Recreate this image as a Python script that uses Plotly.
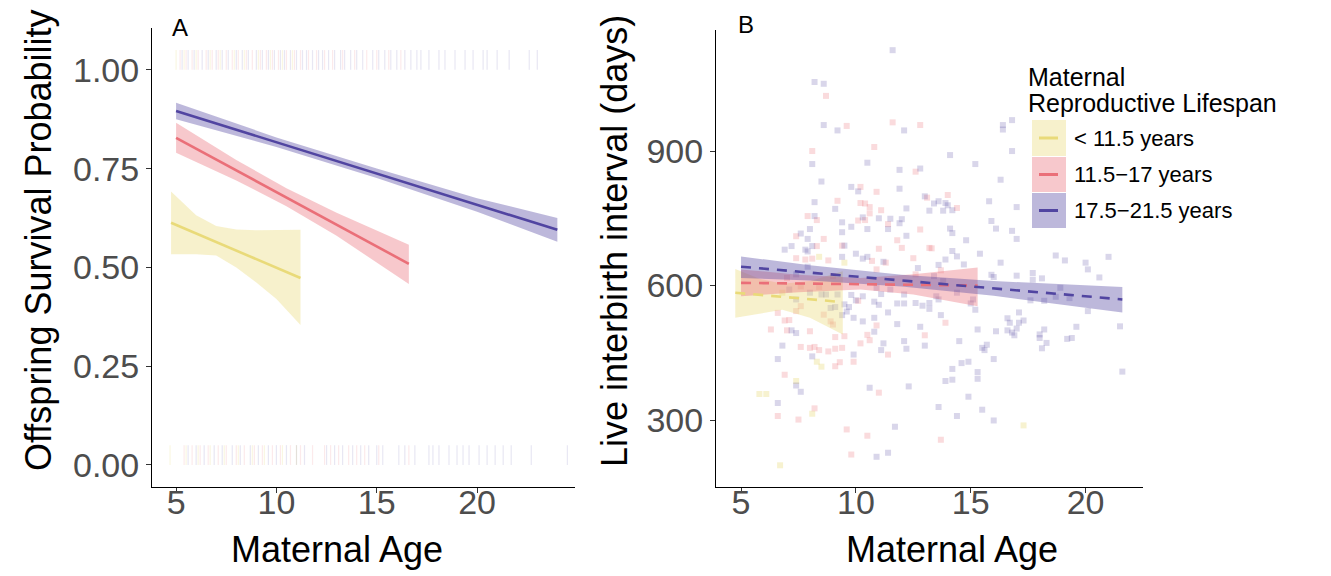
import plotly.graph_objects as go

W, H = 1331, 576
FONT = "Liberation Sans, Arial, sans-serif"
OFF = 8  # page body margin of the html output

# ---------------- colours ----------------
COL = {"y": (233, 218, 121), "r": (234, 111, 120), "b": (81, 69, 161)}
def rgba(c, a):
    return f"rgba({c[0]},{c[1]},{c[2]},{a})"

# ---------------- Panel A: survival fits ----------------
a_yel_age = [4.75, 6.0, 7.0, 8.0, 9.0, 10.0, 11.2]
a_yel_fit = [0.613, 0.586, 0.564, 0.543, 0.521, 0.499, 0.473]
a_yel_hi = [0.692, 0.632, 0.605, 0.596, 0.594, 0.594, 0.595]
a_yel_lo = [0.533, 0.533, 0.530, 0.500, 0.462, 0.420, 0.354]

a_red_age = [5.0, 8.0, 10.5, 13.0, 16.6]
a_red_fit = [0.828, 0.746, 0.677, 0.608, 0.509]
a_red_hi = [0.866, 0.772, 0.700, 0.638, 0.557]
a_red_lo = [0.790, 0.720, 0.655, 0.580, 0.458]

a_blu_age = [5.0, 10.0, 15.0, 20.0, 24.0]
a_blu_fit = [0.896, 0.817, 0.738, 0.658, 0.595]
a_blu_hi = [0.917, 0.829, 0.750, 0.675, 0.625]
a_blu_lo = [0.875, 0.805, 0.726, 0.641, 0.565]

# rug marks (ages of offspring that survived = 1 / died = 0)
surv_blue = [5.3, 5.6, 5.9, 6.3, 6.6, 7.0, 7.3, 7.6, 8.0, 8.3, 8.6, 9.0, 9.3, 9.6, 9.9, 10.2, 10.4, 10.7,
             11.0, 11.3, 11.5, 11.8, 12.1, 12.3, 12.6, 12.9, 13.2, 13.4, 13.7, 14.0, 14.3, 14.8, 15.1, 15.4,
             15.7, 16.0, 16.4, 16.7, 17.0, 17.2, 17.6, 18.1, 18.4, 18.9, 19.4, 19.8, 20.3, 20.5, 21.0, 21.6,
             22.6, 23.0]
surv_red = [5.2, 5.5, 5.8, 6.1, 6.5, 6.8, 7.1, 7.5, 7.8, 8.1, 8.5, 8.8, 9.2, 9.5, 9.8, 10.1, 10.5, 10.9,
            11.2, 11.6, 12.0, 12.4, 12.8, 13.3, 13.9, 14.5, 15.0, 15.6, 16.2]
surv_yel = [5.0, 5.4, 6.0, 6.7, 7.2, 7.9, 8.4, 9.1, 9.7, 10.3, 10.8]
died_blue = [5.6, 6.0, 6.4, 6.9, 7.3, 7.8, 8.2, 8.7, 9.1, 9.6, 10.0, 10.5, 11.0, 11.4, 12.5, 12.9, 13.3,
             13.8, 14.2, 14.6, 15.0, 15.3, 16.1, 16.4, 16.9, 17.6, 17.8, 18.1, 18.6, 19.0, 19.3, 19.6, 20.1,
             20.5, 20.9, 21.3, 21.7, 22.7, 24.5]
died_red = [5.4, 5.8, 6.2, 6.6, 7.1, 7.5, 8.0, 8.4, 8.9, 9.3, 9.8, 10.2, 10.7, 11.2, 11.8, 12.4, 12.7, 13.1,
            13.6, 14.0, 14.4, 15.1, 16.6]
died_yel = [4.7, 5.5, 6.1, 6.7, 7.4, 8.1, 8.8, 9.4, 10.3, 11.0]

# ---------------- Panel B: interbirth intervals ----------------
b_yel_age = [4.75, 5.8, 6.8, 8.0, 9.43]
b_yel_fit = [584, 579, 575, 570, 563]
b_yel_hi = [637, 615, 604, 610, 632]
b_yel_lo = [528, 537, 546, 528, 491]

b_red_age = [5.0, 7.5, 10.2, 12.5, 15.3]
b_red_fit = [606, 604.5, 603, 601.7, 600]
b_red_hi = [636, 624, 617, 625, 640]
b_red_lo = [576, 585, 591, 580, 554]

b_blu_age = [5.0, 8.0, 12.0, 16.0, 21.6]
b_blu_fit = [642, 629, 611, 594, 569]
b_blu_hi = [665, 645, 624, 610, 597]
b_blu_lo = [617, 611, 598, 577, 540]

pts_yel_age = [8.4, 9.5, 6.8, 8.3, 8.5, 7.4, 5.8, 6.1, 8.1, 6.7, 17.3]
pts_yel_ibi = [664, 651, 584, 430, 419, 387, 358, 358, 314, 199, 288]

pts_red_age = [8.7, 9.6, 11.6, 12.8, 8.1, 10.8, 12.6, 10.2, 10.9, 13.1, 9.2, 10.2, 10.4, 10.6, 11.1, 7.9,
               8.3, 10.6, 10.1, 10.4, 11.4, 12.8, 7.4, 8.6, 11.8, 8.3, 9.4, 11.0, 12.0, 13.2, 7.4, 7.8, 8.1,
               8.8, 10.7, 11.3, 12.5, 7.0, 9.0, 10.9, 12.6, 7.6, 8.4, 10.1, 7.6, 7.4, 6.6, 8.6, 6.9, 7.1, 8.9,
               10.9, 6.3, 7.0, 8.0, 9.0, 10.5, 9.1, 9.5, 13.0, 7.6, 8.0, 8.2, 8.4, 8.8, 9.1, 9.4, 10.2, 10.6,
               11.4, 9.3, 9.9, 9.1, 6.9, 11.0, 8.2, 6.6, 7.5, 9.6, 10.5, 9.8,
               14.0, 14.4, 13.3, 13.7, 13.9, 13.7]
pts_red_ibi = [1023, 956, 964, 958, 900, 909, 854, 820, 809, 796, 789, 784, 783, 775, 768, 755,
               746, 761, 745, 746, 737, 725, 710, 704, 701, 688, 689, 682, 684, 684, 661, 658, 660,
               656, 655, 651, 661, 617, 621, 636, 625, 598, 597, 566, 554, 543, 539, 535, 522, 523, 520,
               511, 502, 500, 498, 513, 490, 485, 487, 489, 463, 461, 463, 456, 453, 459, 461, 471, 478,
               446, 429, 430, 420, 401, 361, 326, 309, 301, 279, 265, 223,
               802, 773, 683, 634, 517, 256]

pts_blu_age = [11.6, 8.2, 8.6, 8.6, 9.2, 12.1, 8.1, 10.5, 11.9, 12.8, 8.5, 9.8, 10.1, 11.9, 13.0, 8.2,
               9.1, 12.2, 13.2, 8.2, 10.3, 11.0, 11.5, 12.0, 9.4, 11.9, 8.0, 9.8, 10.5, 11.4, 7.6, 7.9,
               9.4, 12.2, 7.2, 6.9, 7.8, 8.1, 9.5, 7.9, 10.0, 9.4, 10.3, 10.5, 11.2, 12.7, 7.9, 7.4, 7.1,
               8.7, 8.5, 8.0, 7.4, 9.2, 9.8, 10.3, 10.9, 11.1, 11.5, 12.1, 10.0, 10.8, 11.0, 11.8, 12.1,
               12.6, 12.9, 13.2, 13.2, 9.5, 9.7, 8.9, 9.1, 9.6, 11.4, 9.4, 9.9, 10.8, 10.3, 11.8, 12.8,
               7.2, 7.4, 10.8, 6.8, 11.2, 11.1, 12.1, 12.2, 13.0, 9.9, 6.6, 8.1, 7.4, 7.6, 10.6, 12.3,
               6.6, 11.7, 10.9, 11.4,
               16.8, 16.4, 16.4, 16.8, 14.1, 15.2, 16.3, 13.4, 13.6, 13.9, 14.0, 13.8, 14.2, 15.8, 17.0,
               15.9, 16.1, 14.1, 14.2, 14.8, 16.8, 17.0, 15.4, 18.7, 19.1, 20.0, 21.0, 14.2, 14.4, 13.9,
               13.6, 14.7, 16.3, 20.1, 17.7, 17.0, 17.7, 15.9, 16.0, 18.1, 20.6, 13.4, 13.8, 14.4, 13.5,
               13.6, 15.1, 15.0, 15.2, 18.9, 18.7, 17.6, 18.2, 19.3, 20.1, 13.7, 17.1, 17.3, 17.1, 16.6,
               16.7, 16.6, 16.8, 16.9, 17.0, 15.3, 16.1, 18.0, 18.0, 18.2, 18.3, 18.1, 19.2, 19.4, 19.6,
               21.5, 14.5, 15.7, 15.5, 15.6, 16.0, 14.6, 14.9, 14.2, 15.3, 15.3, 14.2, 13.9, 21.6, 14.9,
               13.6, 15.5, 14.4, 16.0]
pts_blu_ibi = [1125, 1054, 1050, 958, 946, 946, 871, 874, 858, 861, 832, 820, 810, 816, 799, 786,
               771, 772, 767, 755, 752, 750, 749, 748, 741, 739, 726, 731, 726, 726, 716, 704,
               719, 711, 688, 680, 680, 688, 689, 676, 671, 664, 660, 664, 653, 639, 642, 625, 591,
               580, 580, 584, 569, 580, 579, 576, 595, 581, 591, 580, 567, 564, 557, 560, 560,
               561, 555, 561, 548, 558, 552, 550, 552, 542, 540, 534, 528, 528, 520, 514, 508,
               500, 494, 497, 466, 471, 456, 476, 459, 466, 446, 436, 442, 377, 363, 372, 375,
               338, 285, 218, 227,
               969, 958, 948, 900, 891, 871, 836, 783, 788, 784, 779, 767, 768, 788, 775,
               744, 727, 727, 717, 701, 722, 704, 671, 667, 656, 651, 664, 677, 665, 658,
               646, 647, 651, 636, 628, 622, 613, 624, 619, 616, 618, 621, 610, 584, 576,
               569, 569, 560, 546, 595, 575, 567, 566, 572, 543, 534, 540, 522, 517, 527,
               517, 500, 495, 489, 504, 502, 498, 491, 483, 502, 472, 460, 481, 483, 508,
               509, 476, 468, 461, 456, 436, 427, 430, 414, 407, 392, 390, 387, 408, 352,
               329, 323, 309, 299]

legend_labels = ["< 11.5 years", "11.5\u221217 years", "17.5\u221221.5 years"]
legend_keys = ["y", "r", "b"]

RUG_H = 0.05
RIB_A = 0.38

fig = go.Figure()

def ribbon(age, lo, hi, c, xa, ya):
    fig.add_trace(go.Scatter(x=list(age) + list(age)[::-1], y=list(hi) + list(lo)[::-1],
                             fill="toself", fillcolor=rgba(COL[c], RIB_A), line=dict(width=0),
                             mode="lines", hoverinfo="skip", showlegend=False, xaxis=xa, yaxis=ya))

def fitline(age, fit, c, xa, ya, dash="solid"):
    fig.add_trace(go.Scatter(x=age, y=fit, mode="lines", line=dict(color=rgba(COL[c], 1), width=2.6, dash=dash),
                             showlegend=False, xaxis=xa, yaxis=ya))

def rug(ages, base, c, alpha):
    xs, ys = [], []
    for a in ages:
        xs += [a, a, None]
        ys += [base, base + RUG_H, None]
    fig.add_trace(go.Scatter(x=xs, y=ys, mode="lines", line=dict(color=rgba(COL[c], alpha), width=1.2),
                             showlegend=False, hoverinfo="skip", xaxis="x", yaxis="y"))

# Panel A
rug(surv_yel, 1.0, "y", 0.22); rug(surv_red, 1.0, "r", 0.15); rug(surv_blue, 1.0, "b", 0.13)
rug(died_yel, 0.0, "y", 0.22); rug(died_red, 0.0, "r", 0.15); rug(died_blue, 0.0, "b", 0.13)
ribbon(a_yel_age, a_yel_lo, a_yel_hi, "y", "x", "y")
ribbon(a_red_age, a_red_lo, a_red_hi, "r", "x", "y")
ribbon(a_blu_age, a_blu_lo, a_blu_hi, "b", "x", "y")
fitline(a_yel_age, a_yel_fit, "y", "x", "y")
fitline(a_red_age, a_red_fit, "r", "x", "y")
fitline(a_blu_age, a_blu_fit, "b", "x", "y")

# Panel B points
for ages, ibis, c, al in [(pts_yel_age, pts_yel_ibi, "y", 0.35), (pts_red_age, pts_red_ibi, "r", 0.25),
                          (pts_blu_age, pts_blu_ibi, "b", 0.22)]:
    fig.add_trace(go.Scatter(x=ages, y=ibis, mode="markers",
                             marker=dict(symbol="square", size=6, color=rgba(COL[c], al), line=dict(width=0)),
                             showlegend=False, xaxis="x2", yaxis="y2"))
ribbon(b_yel_age, b_yel_lo, b_yel_hi, "y", "x2", "y2")
ribbon(b_red_age, b_red_lo, b_red_hi, "r", "x2", "y2")
ribbon(b_blu_age, b_blu_lo, b_blu_hi, "b", "x2", "y2")
fitline(b_yel_age, b_yel_fit, "y", "x2", "y2", dash="10px,8px")
fitline(b_red_age, b_red_fit, "r", "x2", "y2", dash="10px,8px")
fitline(b_blu_age, b_blu_fit, "b", "x2", "y2", dash="10px,8px")

def px(x):
    return (x - OFF) / W
def py(y):
    return 1 - (y - OFF) / H

axis_common = dict(showgrid=False, zeroline=False, showline=True, linecolor="black", linewidth=1,
                   ticks="outside", ticklen=5, tickcolor="#333333", tickwidth=1, automargin=False,
                   tickfont=dict(family=FONT, size=34, color="#4D4D4D"))

fig.update_layout(
    width=W, height=H, margin=dict(l=0, r=0, t=0, b=0),
    paper_bgcolor="white", plot_bgcolor="white", showlegend=False,
    xaxis=dict(domain=[px(152), px(575)], range=[3.8, 24.88], tickvals=[5, 10, 15, 20], anchor="y",
               ticklabelstandoff=-20, **axis_common),
    yaxis=dict(domain=[py(487), py(28)], range=[-0.056, 1.106], tickvals=[0, 0.25, 0.5, 0.75, 1.0],
               ticktext=["0.00", "0.25", "0.50", "0.75", "1.00"], anchor="x", **axis_common),
    xaxis2=dict(domain=[px(716), px(1143)], range=[3.91, 22.5], tickvals=[5, 10, 15, 20], anchor="y2",
                ticklabelstandoff=-20, **axis_common),
    yaxis2=dict(domain=[py(487), py(30)], range=[150.6, 1170], tickvals=[300, 600, 900], anchor="x2", **axis_common),
)

ann = []
tf = dict(family=FONT, size=36, color="black")
ann.append(dict(text="Maternal Age", x=px(337), y=py(549), xref="paper", yref="paper", showarrow=False,
                font=tf, xanchor="center", yanchor="middle"))
ann.append(dict(text="Maternal Age", x=px(952), y=py(549), xref="paper", yref="paper", showarrow=False,
                font=tf, xanchor="center", yanchor="middle"))
ann.append(dict(text="Offspring Survival Probability", x=px(38), y=py(240), xref="paper", yref="paper",
                showarrow=False, font=tf, textangle=-90, xanchor="center", yanchor="middle"))
ann.append(dict(text="Live interbirth interval (days)", x=px(615), y=py(241), xref="paper", yref="paper",
                showarrow=False, font=tf, textangle=-90, xanchor="center", yanchor="middle"))
pf = dict(family=FONT, size=24, color="black")
ann.append(dict(text="A", x=px(170), y=py(27), xref="paper", yref="paper", showarrow=False, font=pf,
                xanchor="left", yanchor="middle"))
ann.append(dict(text="B", x=px(736), y=py(25), xref="paper", yref="paper", showarrow=False, font=pf,
                xanchor="left", yanchor="middle"))

# legend (drawn manually)
lf = dict(family=FONT, size=25, color="black")
ann.append(dict(text="Maternal", x=px(1026), y=py(77), xref="paper", yref="paper",
                showarrow=False, xanchor="left", yanchor="middle", font=lf))
ann.append(dict(text="Reproductive Lifespan", x=px(1026), y=py(103), xref="paper", yref="paper",
                showarrow=False, xanchor="left", yanchor="middle", font=lf))
shapes = []
rows = [(120, 156), (157, 192), (193, 228)]
for (y0, y1), k, lab in zip(rows, legend_keys, legend_labels):
    shapes.append(dict(type="rect", xref="paper", yref="paper", x0=px(1032), x1=px(1066), y0=py(y1), y1=py(y0),
                       fillcolor=rgba(COL[k], RIB_A), line=dict(width=0)))
    yc = (y0 + y1) / 2
    shapes.append(dict(type="line", xref="paper", yref="paper", x0=px(1039), x1=px(1058), y0=py(yc), y1=py(yc),
                       line=dict(color=rgba(COL[k], 1), width=3)))
    ann.append(dict(text=lab, x=px(1072), y=py(yc), xref="paper", yref="paper", showarrow=False,
                    xanchor="left", yanchor="middle", font=dict(family=FONT, size=22, color="black")))

fig.update_layout(annotations=ann, shapes=shapes)
fig.write_html("out.html")
